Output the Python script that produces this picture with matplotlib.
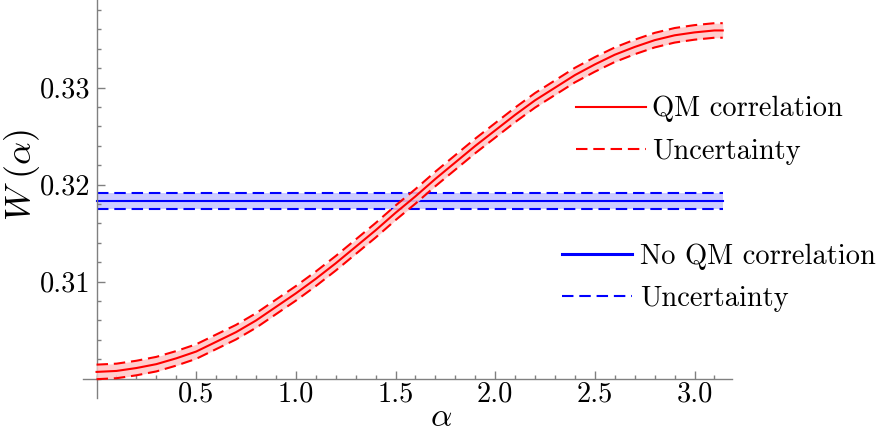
import matplotlib
matplotlib.use("Agg")
import matplotlib.pyplot as plt
from matplotlib.ticker import FixedLocator, MultipleLocator
from matplotlib.lines import Line2D

plt.rcParams['font.family'] = ['cmr10', 'DejaVu Serif']
plt.rcParams['mathtext.fontset'] = 'cm'
plt.rcParams['axes.formatter.use_mathtext'] = True

# ---- data ----
alpha = [0.0, 0.1, 0.2, 0.3, 0.4, 0.5, 0.6, 0.7, 0.8, 0.9, 1.0, 1.1, 1.2, 1.3,
         1.4, 1.5, 1.6, 1.7, 1.8, 1.9, 2.0, 2.1, 2.2, 2.3, 2.4, 2.5, 2.6, 2.7,
         2.8, 2.9, 3.0, 3.1, 3.1416]
w_qm = [0.3007, 0.3008, 0.3011, 0.3015, 0.3021, 0.3028, 0.3038, 0.3048, 0.3060,
        0.3074, 0.3088, 0.3103, 0.3119, 0.3136, 0.3153, 0.3171, 0.3188, 0.3206,
        0.3223, 0.3240, 0.3256, 0.3272, 0.3287, 0.3300, 0.3313, 0.3324, 0.3334,
        0.3342, 0.3349, 0.3354, 0.3357, 0.3359, 0.3359]
qm_err = 0.00075
w_noqm = 0.3183
noqm_err = 0.0008
x_tick_vals = [0.5, 1.0, 1.5, 2.0, 2.5, 3.0]
x_tick_labels = ['0.5', '1.0', '1.5', '2.0', '2.5', '3.0']
y_tick_vals = [0.31, 0.32, 0.33]
y_tick_labels = ['0.31', '0.32', '0.33']
qm_labels = ['QM correlation', 'Uncertainty']
noqm_labels = ['No QM correlation', 'Uncertainty']

RED = (1.0, 0.0, 0.0)
BLUE = (0.0, 0.0, 1.0)
GRAY = (0.5, 0.5, 0.5)
FS = 20.5

fig = plt.figure(figsize=(8.76, 4.34), dpi=100)
ax = fig.add_axes([83/876, 1-398/434, (732-83)/876, 398/434])

qm_hi = [v + qm_err for v in w_qm]
qm_lo = [v - qm_err for v in w_qm]
x_end = [alpha[0], alpha[-1]]
nq = [w_noqm, w_noqm]
nq_hi = [w_noqm + noqm_err] * 2
nq_lo = [w_noqm - noqm_err] * 2

dash = (0, (5.5, 2.8))
lw = 1.5

ax.fill_between(x_end, nq_lo, nq_hi, color=(0.8, 0.8, 1.0), lw=0, zorder=1)
ax.plot(x_end, nq, color=BLUE, lw=lw, zorder=2)
ax.plot(x_end, nq_hi, color=BLUE, lw=lw, ls=dash, zorder=2)
ax.plot(x_end, nq_lo, color=BLUE, lw=lw, ls=dash, zorder=2)

ax.fill_between(alpha, qm_lo, qm_hi, color=(1.0, 0.78, 0.78), alpha=0.85, lw=0, zorder=3)
ax.plot(alpha, w_qm, color=RED, lw=lw, zorder=4)
ax.plot(alpha, qm_hi, color=RED, lw=lw, ls=dash, zorder=4)
ax.plot(alpha, qm_lo, color=RED, lw=lw, ls=dash, zorder=4)

ax.set_xlim(-0.068, 3.188)
ax.set_ylim(0.29801, 0.33904)

for s in ['top', 'right']:
    ax.spines[s].set_visible(False)
ax.spines['left'].set_position(('data', 0.0))
ax.spines['bottom'].set_position(('data', 0.300))
for s in ['left', 'bottom']:
    ax.spines[s].set_color(GRAY)
    ax.spines[s].set_linewidth(1.0)
ax.patch.set_visible(False)

ax.xaxis.set_major_locator(FixedLocator(x_tick_vals))
ax.set_xticklabels(x_tick_labels)
ax.xaxis.set_minor_locator(MultipleLocator(0.1))
ax.yaxis.set_major_locator(FixedLocator(y_tick_vals))
ax.set_yticklabels(y_tick_labels)
ax.yaxis.set_minor_locator(MultipleLocator(0.002))
ax.tick_params(which='both', direction='in', color=GRAY, labelsize=FS, width=1.0)
ax.tick_params(which='major', length=5.5)
ax.tick_params(which='minor', length=3.2)
ax.tick_params(axis='x', which='major', pad=2)
ax.tick_params(axis='y', which='major', pad=4)

fig.text(441/876, 1-418/434, r'$\alpha$', fontsize=24, ha='center', va='center')
fig.text(22/876, 1-175/434, r'$W\;(\alpha)$', fontsize=26, ha='center', va='center', rotation=90)

h_red = [Line2D([], [], color=RED, lw=lw), Line2D([], [], color=RED, lw=lw, ls=dash)]
h_blue = [Line2D([], [], color=BLUE, lw=2.2), Line2D([], [], color=BLUE, lw=lw, ls=dash)]
leg1 = fig.legend(h_red, qm_labels, loc='upper left', bbox_to_anchor=(576/876, 1-96/434),
                  frameon=False, fontsize=FS, handlelength=2.46, handletextpad=0.22,
                  labelspacing=0.57, borderpad=0, borderaxespad=0)
leg2 = fig.legend(h_blue, noqm_labels, loc='upper left', bbox_to_anchor=(562/876, 1-243/434),
                  frameon=False, fontsize=FS, handlelength=2.46, handletextpad=0.28,
                  labelspacing=0.57, borderpad=0, borderaxespad=0)

fig.savefig('out.png', dpi=100)
